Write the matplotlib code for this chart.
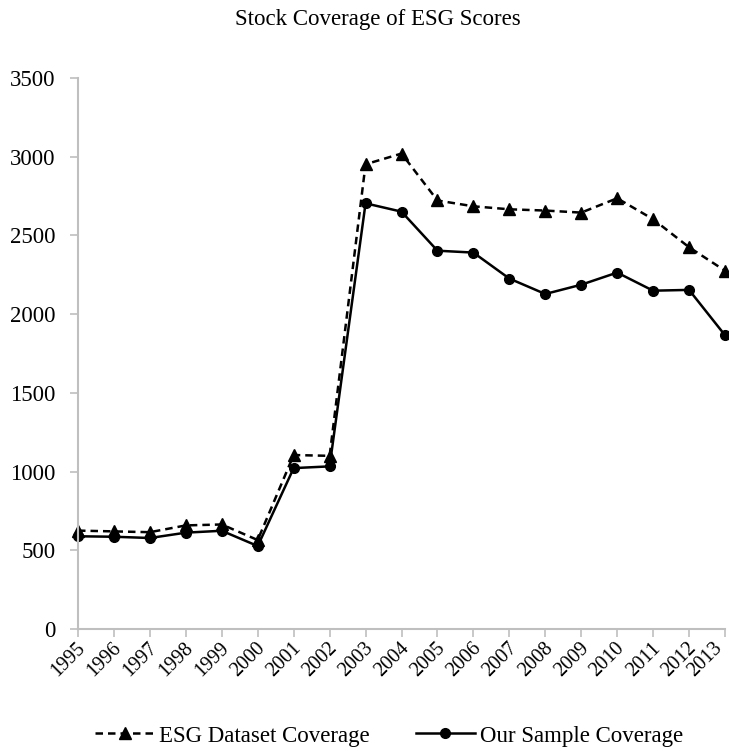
import matplotlib
matplotlib.use("Agg")
import matplotlib.pyplot as plt
import matplotlib.transforms as mtransforms

years = list(range(1995, 2014))
year_labels = [str(y) for y in years]
esg_dataset = [625, 620, 615, 658, 664, 565, 1105, 1100, 2952, 3020, 2722, 2685, 2666, 2658, 2645, 2736, 2603, 2425, 2276]
our_sample = [589, 586, 578, 612, 624, 527, 1022, 1033, 2704, 2651, 2403, 2391, 2226, 2128, 2187, 2264, 2149, 2154, 1866]
y_ticks = [0, 500, 1000, 1500, 2000, 2500, 3000, 3500]

plt.rcParams['font.family'] = ['Liberation Serif', 'DejaVu Serif']

fig = plt.figure(figsize=(7.29, 7.51), dpi=100)
ax = fig.add_axes([78/729, 1-629/751, (725-78)/729, (629-78)/751])

ax.plot(years, esg_dataset, color='black', lw=1.8, linestyle=(0, (3, 2)),
        marker='^', markersize=8, label='ESG Dataset Coverage', clip_on=False)
ax.plot(years, our_sample, color='black', lw=1.8, linestyle='-',
        marker='o', markersize=7, label='Our Sample Coverage', clip_on=False)

ax.set_xlim(1995, 2013)
ax.set_ylim(0, 3500)
ax.set_yticks(y_ticks)
ax.set_yticklabels([str(v) for v in y_ticks], fontsize=16.5)
ax.set_xticks(years)
ax.set_xticklabels([])

# rotated year labels; the last one is nudged a little further left so it stays on the canvas
base = ax.get_xaxis_transform()
for i, (yr, lab) in enumerate(zip(years, year_labels)):
    dx = -0.02 if i < len(years) - 1 else -0.12
    offset = mtransforms.ScaledTranslation(dx, -0.10, fig.dpi_scale_trans)
    ax.text(yr, 0, lab, transform=base + offset, rotation=45, fontsize=14.5,
            ha='right', va='top', rotation_mode='anchor', clip_on=False)

for s in ['top', 'right']:
    ax.spines[s].set_visible(False)
for s in ['left', 'bottom']:
    ax.spines[s].set_color('#bfbfbf')
    ax.spines[s].set_linewidth(1.5)
ax.tick_params(axis='both', color='#bfbfbf', width=1.2, length=6, direction='out')
ax.tick_params(axis='y', pad=10)

fig.text(378/729, 1-20/751, 'Stock Coverage of ESG Scores', ha='center', va='center', fontsize=16.5)

fig.legend(loc='center', bbox_to_anchor=(389/729, 1-736/751), ncol=2, frameon=False,
           fontsize=16.5, handlelength=2.6, columnspacing=2.0, handletextpad=0.2)

fig.savefig('out.png', dpi=100)
